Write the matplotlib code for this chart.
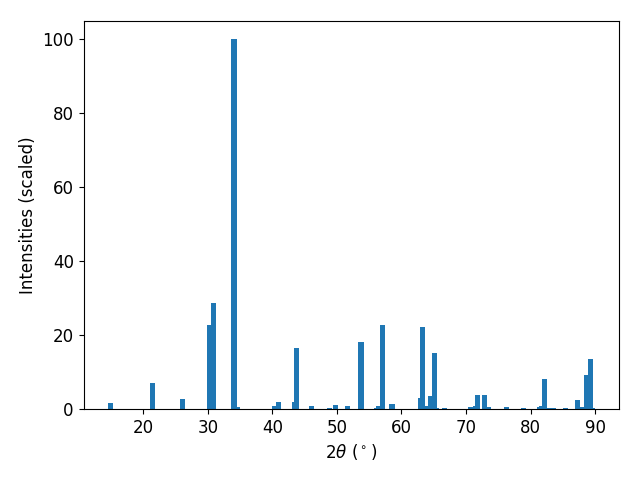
import matplotlib
matplotlib.use("Agg")
import matplotlib.pyplot as plt

plt.rcParams["font.size"] = 12

two_theta = [14.92, 21.43, 26.07, 30.27, 30.86, 34.06, 34.58,
             40.35, 40.95, 43.45, 43.74, 46.07, 48.85, 49.78, 51.64, 53.74,
             56.15, 56.46, 57.07, 58.54,
             62.97, 63.27, 63.90, 64.52, 65.13, 65.42, 66.60,
             70.70, 71.49, 71.79, 72.87, 73.48, 76.28, 78.92,
             81.41, 81.72, 82.17, 82.96, 83.55, 85.43,
             87.29, 88.08, 88.70, 89.30, 89.52]
intensities = [1.6, 7.0, 2.7, 22.8, 28.7, 100.0, 0.5,
               0.9, 1.9, 1.9, 16.6, 0.9, 0.4, 1.2, 0.9, 18.2,
               0.3, 0.8, 22.8, 1.4,
               3.0, 22.2, 0.8, 3.5, 15.2, 0.3, 0.3,
               0.5, 0.9, 3.8, 3.8, 0.5, 0.5, 0.3,
               0.5, 0.8, 8.1, 0.3, 0.3, 0.3,
               2.4, 0.6, 9.2, 13.5, 0.3]

fig, ax = plt.subplots(figsize=(6.4, 4.8), dpi=100)
ax.bar(two_theta, intensities)
ax.set_xlabel(r"2$\theta$ ($^\circ$)")
ax.set_ylabel("Intensities (scaled)")
fig.subplots_adjust(left=0.1305, right=0.9672, top=0.9563, bottom=0.1479)
fig.savefig("out.png", dpi=100)
